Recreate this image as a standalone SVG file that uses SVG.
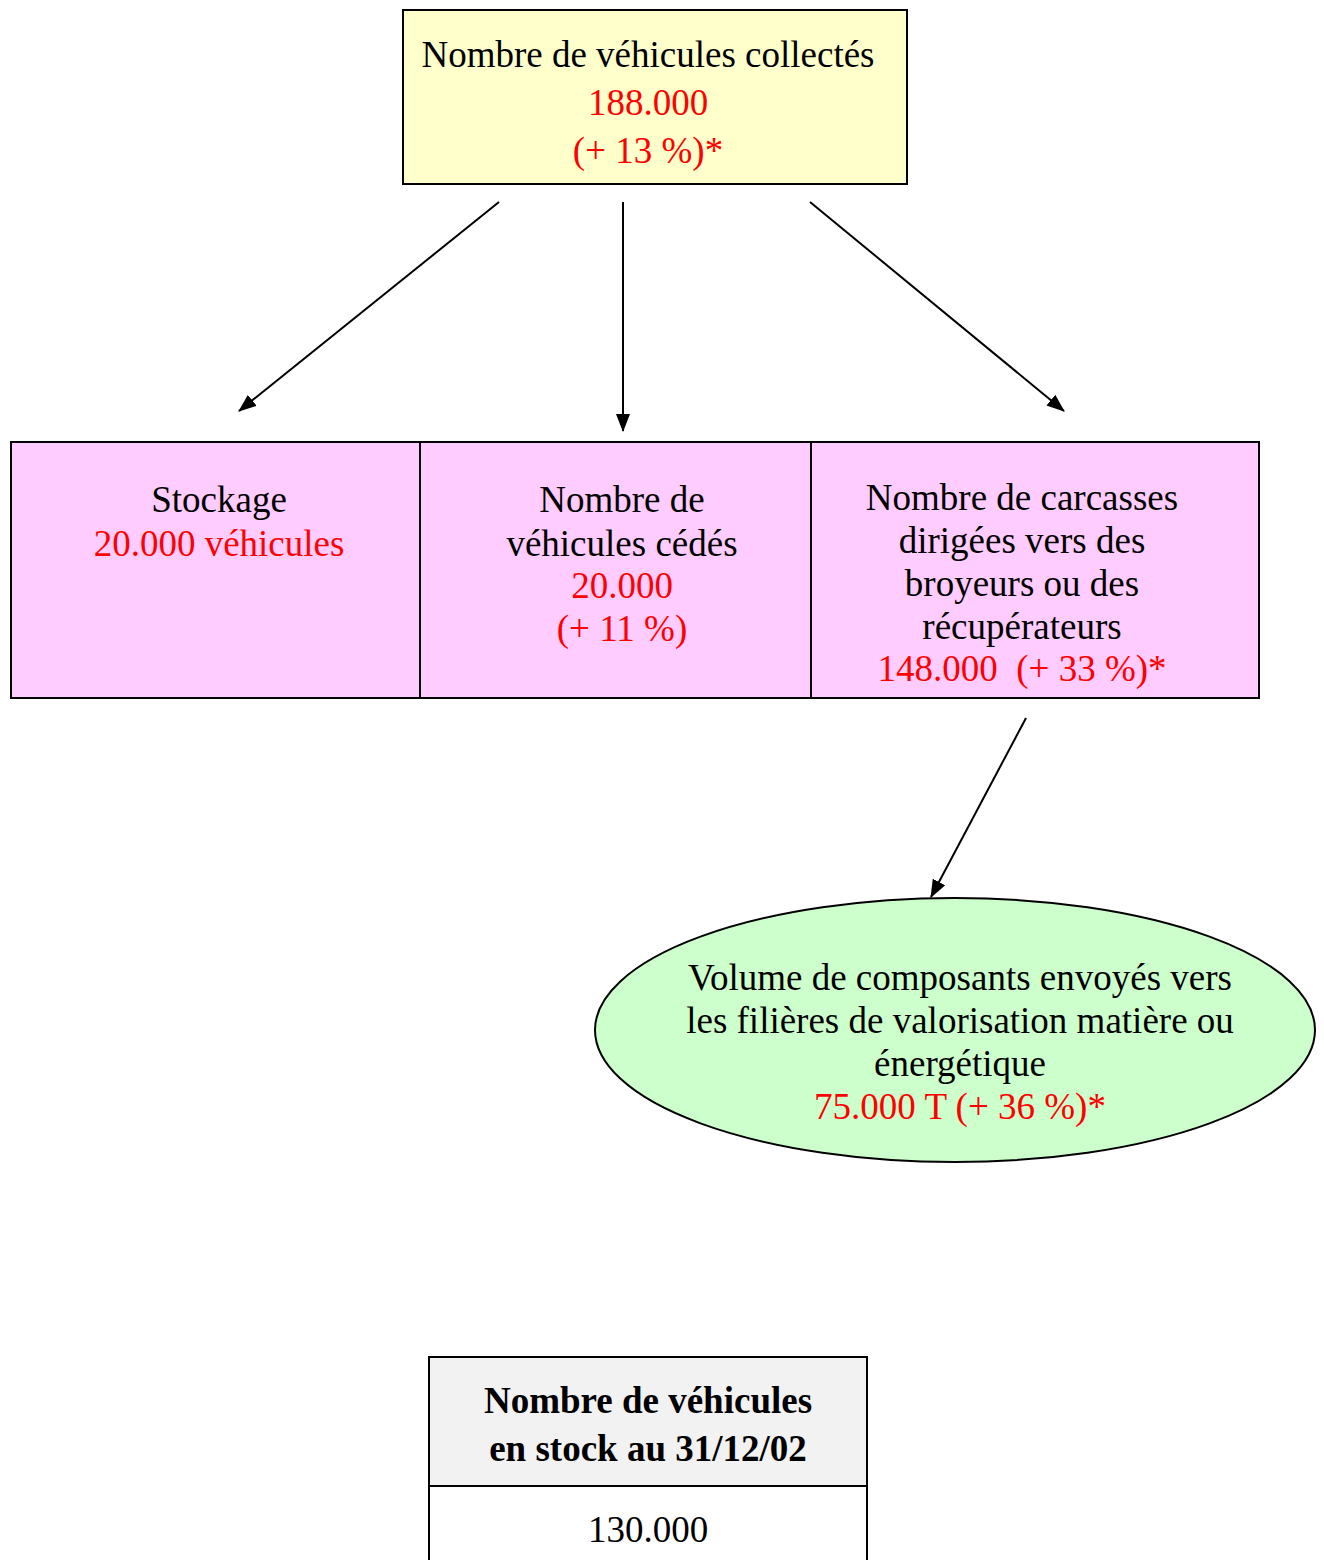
<svg xmlns="http://www.w3.org/2000/svg" width="1324" height="1560" viewBox="0 0 1324 1560">
<defs>
<marker id="ah" markerWidth="18" markerHeight="14" refX="17" refY="7" orient="auto" markerUnits="userSpaceOnUse">
<path d="M0,0 L18,7 L0,14 z" fill="#000"/>
</marker>
<style>
text{font-family:"Liberation Serif","Times New Roman",serif;font-size:37px;text-anchor:middle;fill:#000}
.r{fill:#ff0000}
.b{font-weight:bold}
.box{stroke:#000;stroke-width:2}
.c{stroke:#000;stroke-width:2;fill:none;marker-end:url(#ah)}
</style>
</defs>
<rect width="1324" height="1560" fill="#fff"/>
<g id="collectes">
<rect class="box" x="403" y="10" width="504" height="174" fill="#ffffcc"/>
<text x="648" y="67">Nombre de véhicules collectés</text>
<text class="r" x="648" y="115">188.000</text>
<text class="r" x="648" y="163">(+ 13 %)*</text>
</g>
<g id="stockage">
<rect class="box" x="11" y="442" width="409" height="256" fill="#ffccff"/>
<text x="219" y="512">Stockage</text>
<text class="r" x="219" y="556">20.000 véhicules</text>
</g>
<g id="cedes">
<rect class="box" x="420" y="442" width="391" height="256" fill="#ffccff"/>
<text x="622" y="512">Nombre de</text>
<text x="622" y="556">véhicules cédés</text>
<text class="r" x="622" y="598">20.000</text>
<text class="r" x="622" y="641">(+ 11 %)</text>
</g>
<g id="carcasses">
<rect class="box" x="811" y="442" width="448" height="256" fill="#ffccff"/>
<text x="1022" y="510">Nombre de carcasses</text>
<text x="1022" y="553">dirigées vers des</text>
<text x="1022" y="596">broyeurs ou des</text>
<text x="1022" y="639">récupérateurs</text>
<text class="r" x="1022" y="681" xml:space="preserve">148.000  (+ 33 %)*</text>
</g>
<g id="composants">
<ellipse class="box" cx="955" cy="1030" rx="360" ry="132" fill="#ccffcc"/>
<text x="960" y="990">Volume de composants envoyés vers</text>
<text x="960" y="1033">les filières de valorisation matière ou</text>
<text x="960" y="1076">énergétique</text>
<text class="r" x="960" y="1119">75.000 T (+ 36 %)*</text>
</g>
<g id="stock">
<rect class="box" x="429" y="1357" width="438" height="129" fill="#f2f2f2"/>
<rect class="box" x="429" y="1486" width="438" height="80" fill="#fff"/>
<text class="b" x="648" y="1413">Nombre de véhicules</text>
<text class="b" x="648" y="1461">en stock au 31/12/02</text>
<text x="648" y="1542">130.000</text>
</g>
<g id="connectors">
<line class="c" x1="499" y1="202" x2="239" y2="411"/>
<line class="c" x1="623" y1="202" x2="623" y2="431"/>
<line class="c" x1="810" y1="202" x2="1064" y2="411"/>
<line class="c" x1="1026" y1="718" x2="931" y2="897"/>
</g>
</svg>
